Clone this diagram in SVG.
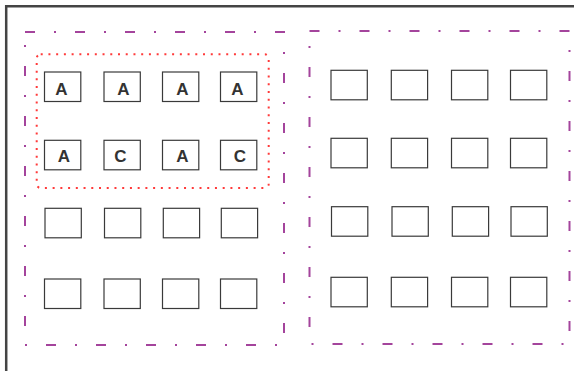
<svg xmlns="http://www.w3.org/2000/svg" width="574" height="371" viewBox="0 0 574 371">
<style>
.frame{fill:none;stroke:#444;stroke-width:2.5}
.dd{fill:none;stroke:#a4449c;stroke-width:2;stroke-dasharray:10 19 2 19}
.dot{fill:none;stroke:#ff3a3a;stroke-width:2;stroke-dasharray:2 5.73}
.b{fill:#fff;stroke:#3a3a3a;stroke-width:1.2}
.t{font-family:"Liberation Sans",Arial,sans-serif;font-weight:bold;font-size:17px;fill:#333;text-anchor:middle}
</style>
<rect width="574" height="371" fill="#fff"/>
<path class="frame" d="M6.2 371V6.2H574"/>
<g id="groupLeft"><rect class="dd" x="25" y="32" width="259" height="313"/></g>
<g id="groupRight"><rect class="dd" x="309.5" y="31" width="260" height="313"/></g>
<g id="groupRed"><rect class="dot" x="36.7" y="54.3" width="232" height="133.7" rx="4"/></g>
<g id="L11"><rect class="b" x="44.5" y="72" width="36.3" height="29.5"/><text class="t" x="61.5" y="95">A</text></g>
<g id="L12"><rect class="b" x="104" y="72" width="36.3" height="29.5"/><text class="t" x="123.5" y="95">A</text></g>
<g id="L13"><rect class="b" x="162.5" y="72" width="36.3" height="29.5"/><text class="t" x="182.5" y="95">A</text></g>
<g id="L14"><rect class="b" x="220.5" y="72" width="36.3" height="29.5"/><text class="t" x="237.5" y="95">A</text></g>
<g id="L21"><rect class="b" x="44.5" y="140.3" width="36.3" height="29.5"/><text class="t" x="64" y="161.5">A</text></g>
<g id="L22"><rect class="b" x="104" y="140.3" width="36.3" height="29.5"/><text class="t" x="120.5" y="162">C</text></g>
<g id="L23"><rect class="b" x="162.5" y="140.3" width="36.3" height="29.5"/><text class="t" x="182.5" y="162">A</text></g>
<g id="L24"><rect class="b" x="220.5" y="140.3" width="36.3" height="29.5"/><text class="t" x="240" y="162">C</text></g>
<g id="L31"><rect class="b" x="45" y="208.3" width="36.3" height="29.5"/></g>
<g id="L32"><rect class="b" x="104.5" y="208.3" width="36.3" height="29.5"/></g>
<g id="L33"><rect class="b" x="163.3" y="208.3" width="36.3" height="29.5"/></g>
<g id="L34"><rect class="b" x="221.3" y="208.3" width="36.3" height="29.5"/></g>
<g id="L41"><rect class="b" x="44.5" y="279" width="36.3" height="29.5"/></g>
<g id="L42"><rect class="b" x="104" y="279" width="36.3" height="29.5"/></g>
<g id="L43"><rect class="b" x="162.5" y="279" width="36.3" height="29.5"/></g>
<g id="L44"><rect class="b" x="220.5" y="279" width="36.3" height="29.5"/></g>
<g id="R11"><rect class="b" x="331" y="70.3" width="36.3" height="29.5"/></g>
<g id="R12"><rect class="b" x="391.3" y="70.3" width="36.3" height="29.5"/></g>
<g id="R13"><rect class="b" x="451.5" y="70.3" width="36.3" height="29.5"/></g>
<g id="R14"><rect class="b" x="510.5" y="70.3" width="36.3" height="29.5"/></g>
<g id="R21"><rect class="b" x="331" y="138.3" width="36.3" height="29.5"/></g>
<g id="R22"><rect class="b" x="391.3" y="138.3" width="36.3" height="29.5"/></g>
<g id="R23"><rect class="b" x="451.5" y="138.3" width="36.3" height="29.5"/></g>
<g id="R24"><rect class="b" x="510.5" y="138.3" width="36.3" height="29.5"/></g>
<g id="R31"><rect class="b" x="331.5" y="206.7" width="36.3" height="29.5"/></g>
<g id="R32"><rect class="b" x="392" y="206.7" width="36.3" height="29.5"/></g>
<g id="R33"><rect class="b" x="452.3" y="206.7" width="36.3" height="29.5"/></g>
<g id="R34"><rect class="b" x="511" y="206.7" width="36.3" height="29.5"/></g>
<g id="R41"><rect class="b" x="331" y="277.3" width="36.3" height="29.5"/></g>
<g id="R42"><rect class="b" x="391.3" y="277.3" width="36.3" height="29.5"/></g>
<g id="R43"><rect class="b" x="451.5" y="277.3" width="36.3" height="29.5"/></g>
<g id="R44"><rect class="b" x="510.5" y="277.3" width="36.3" height="29.5"/></g>
<g id="connectors"></g>
</svg>
